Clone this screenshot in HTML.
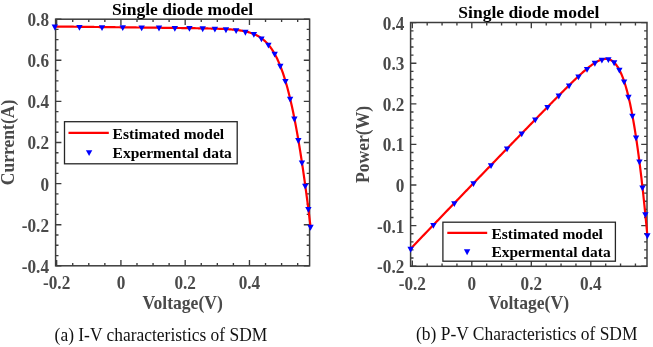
<!DOCTYPE html>
<html><head><meta charset="utf-8"><style>
html,body{margin:0;padding:0;background:#fff;}
body{width:653px;height:347px;overflow:hidden;}
svg{display:block;will-change:transform;filter:blur(0.35px);}
text{font-family:"Liberation Serif", serif;}
</style></head><body>
<svg width="653" height="347" viewBox="0 0 653 347">
<rect width="653" height="347" fill="#fff"/>
<rect x="55.60" y="19.20" width="254.00" height="246.60" fill="none" stroke="#3c3c3c" stroke-width="1.5"/><path d="M56.65,265.80V260.00M56.65,19.20V25.00M72.72,265.80V262.90M72.72,19.20V22.10M88.78,265.80V262.90M88.78,19.20V22.10M104.85,265.80V262.90M104.85,19.20V22.10M120.92,265.80V260.00M120.92,19.20V25.00M136.99,265.80V262.90M136.99,19.20V22.10M153.06,265.80V262.90M153.06,19.20V22.10M169.12,265.80V262.90M169.12,19.20V22.10M185.19,265.80V260.00M185.19,19.20V25.00M201.26,265.80V262.90M201.26,19.20V22.10M217.33,265.80V262.90M217.33,19.20V22.10M233.40,265.80V262.90M233.40,19.20V22.10M249.46,265.80V260.00M249.46,19.20V25.00M265.53,265.80V262.90M265.53,19.20V22.10M281.60,265.80V262.90M281.60,19.20V22.10M297.67,265.80V262.90M297.67,19.20V22.10M55.60,265.84H61.40M309.60,265.84H303.80M55.60,255.56H58.50M309.60,255.56H306.70M55.60,245.28H58.50M309.60,245.28H306.70M55.60,235.00H58.50M309.60,235.00H306.70M55.60,224.72H61.40M309.60,224.72H303.80M55.60,214.44H58.50M309.60,214.44H306.70M55.60,204.16H58.50M309.60,204.16H306.70M55.60,193.88H58.50M309.60,193.88H306.70M55.60,183.60H61.40M309.60,183.60H303.80M55.60,173.32H58.50M309.60,173.32H306.70M55.60,163.04H58.50M309.60,163.04H306.70M55.60,152.76H58.50M309.60,152.76H306.70M55.60,142.48H61.40M309.60,142.48H303.80M55.60,132.20H58.50M309.60,132.20H306.70M55.60,121.92H58.50M309.60,121.92H306.70M55.60,111.64H58.50M309.60,111.64H306.70M55.60,101.36H61.40M309.60,101.36H303.80M55.60,91.08H58.50M309.60,91.08H306.70M55.60,80.80H58.50M309.60,80.80H306.70M55.60,70.52H58.50M309.60,70.52H306.70M55.60,60.24H61.40M309.60,60.24H303.80M55.60,49.96H58.50M309.60,49.96H306.70M55.60,39.68H58.50M309.60,39.68H306.70M55.60,29.40H58.50M309.60,29.40H306.70M55.60,19.12H61.40M309.60,19.12H303.80" stroke="#3c3c3c" stroke-width="1.35" fill="none"/><path d="M54.82,26.50L55.46,26.51L56.10,26.52L56.74,26.53L57.38,26.53L58.02,26.54L58.66,26.55L59.30,26.56L59.94,26.56L60.58,26.57L61.22,26.58L61.87,26.59L62.51,26.59L63.15,26.60L63.79,26.61L64.43,26.62L65.07,26.62L65.71,26.63L66.35,26.64L66.99,26.65L67.63,26.66L68.27,26.66L68.92,26.67L69.56,26.68L70.20,26.69L70.84,26.69L71.48,26.70L72.12,26.71L72.76,26.72L73.40,26.72L74.04,26.73L74.68,26.74L75.32,26.75L75.96,26.75L76.61,26.76L77.25,26.77L77.89,26.78L78.53,26.78L79.17,26.79L79.81,26.80L80.45,26.81L81.09,26.82L81.73,26.82L82.37,26.83L83.01,26.84L83.66,26.85L84.30,26.85L84.94,26.86L85.58,26.87L86.22,26.88L86.86,26.88L87.50,26.89L88.14,26.90L88.78,26.91L89.42,26.91L90.06,26.92L90.70,26.93L91.35,26.94L91.99,26.95L92.63,26.95L93.27,26.96L93.91,26.97L94.55,26.98L95.19,26.98L95.83,26.99L96.47,27.00L97.11,27.01L97.75,27.01L98.40,27.02L99.04,27.03L99.68,27.04L100.32,27.04L100.96,27.05L101.60,27.06L102.24,27.07L102.88,27.07L103.52,27.08L104.16,27.09L104.80,27.10L105.44,27.11L106.09,27.11L106.73,27.12L107.37,27.13L108.01,27.14L108.65,27.14L109.29,27.15L109.93,27.16L110.57,27.17L111.21,27.17L111.85,27.18L112.49,27.19L113.14,27.20L113.78,27.20L114.42,27.21L115.06,27.22L115.70,27.23L116.34,27.23L116.98,27.24L117.62,27.25L118.26,27.26L118.90,27.27L119.54,27.27L120.18,27.28L120.83,27.29L121.47,27.30L122.11,27.30L122.75,27.31L123.39,27.32L124.03,27.33L124.67,27.33L125.31,27.34L125.95,27.35L126.59,27.36L127.23,27.36L127.88,27.37L128.52,27.38L129.16,27.39L129.80,27.40L130.44,27.40L131.08,27.41L131.72,27.42L132.36,27.43L133.00,27.43L133.64,27.44L134.28,27.45L134.92,27.46L135.57,27.46L136.21,27.47L136.85,27.48L137.49,27.49L138.13,27.49L138.77,27.50L139.41,27.51L140.05,27.52L140.69,27.53L141.33,27.53L141.97,27.54L142.62,27.55L143.26,27.56L143.90,27.56L144.54,27.57L145.18,27.58L145.82,27.59L146.46,27.59L147.10,27.60L147.74,27.61L148.38,27.62L149.02,27.63L149.66,27.63L150.31,27.64L150.95,27.65L151.59,27.66L152.23,27.66L152.87,27.67L153.51,27.68L154.15,27.69L154.79,27.69L155.43,27.70L156.07,27.71L156.71,27.72L157.36,27.73L158.00,27.73L158.64,27.74L159.28,27.75L159.92,27.76L160.56,27.76L161.20,27.77L161.84,27.78L162.48,27.79L163.12,27.80L163.76,27.80L164.40,27.81L165.05,27.82L165.69,27.83L166.33,27.83L166.97,27.84L167.61,27.85L168.25,27.86L168.89,27.87L169.53,27.87L170.17,27.88L170.81,27.89L171.45,27.90L172.10,27.91L172.74,27.91L173.38,27.92L174.02,27.93L174.66,27.94L175.30,27.95L175.94,27.95L176.58,27.96L177.22,27.97L177.86,27.98L178.50,27.99L179.14,28.00L179.79,28.00L180.43,28.01L181.07,28.02L181.71,28.03L182.35,28.04L182.99,28.05L183.63,28.06L184.27,28.06L184.91,28.07L185.55,28.08L186.19,28.09L186.83,28.10L187.48,28.11L188.12,28.12L188.76,28.13L189.40,28.14L190.04,28.15L190.68,28.15L191.32,28.16L191.96,28.17L192.60,28.18L193.24,28.19L193.88,28.20L194.53,28.21L195.17,28.22L195.81,28.23L196.45,28.24L197.09,28.25L197.73,28.26L198.37,28.28L199.01,28.29L199.65,28.30L200.29,28.31L200.93,28.32L201.57,28.33L202.22,28.34L202.86,28.36L203.50,28.37L204.14,28.38L204.78,28.39L205.42,28.41L206.06,28.42L206.70,28.43L207.34,28.45L207.98,28.46L208.62,28.48L209.27,28.49L209.91,28.51L210.55,28.52L211.19,28.54L211.83,28.56L212.47,28.58L213.11,28.59L213.75,28.61L214.39,28.63L215.03,28.65L215.67,28.67L216.31,28.69L216.96,28.71L217.60,28.74L218.24,28.76L218.88,28.78L219.52,28.81L220.16,28.83L220.80,28.86L221.44,28.89L222.08,28.91L222.72,28.94L223.36,28.98L224.01,29.01L224.65,29.04L225.29,29.08L225.93,29.11L226.57,29.15L227.21,29.19L227.85,29.23L228.49,29.27L229.13,29.31L229.77,29.36L230.41,29.41L231.05,29.46L231.70,29.51L232.34,29.57L232.98,29.62L233.62,29.68L234.26,29.75L234.90,29.81L235.54,29.88L236.18,29.95L236.82,30.03L237.46,30.10L238.10,30.19L238.75,30.27L239.39,30.36L240.03,30.45L240.67,30.55L241.31,30.66L241.95,30.76L242.59,30.88L243.23,30.99L243.87,31.12L244.51,31.25L245.15,31.39L245.79,31.53L246.44,31.68L247.08,31.83L247.72,32.00L248.36,32.17L249.00,32.35L249.64,32.54L250.28,32.74L250.92,32.95L251.56,33.17L252.20,33.40L252.84,33.64L253.49,33.89L254.13,34.16L254.77,34.43L255.41,34.72L256.05,35.03L256.69,35.35L257.33,35.68L257.97,36.03L258.61,36.40L259.25,36.78L259.89,37.19L260.53,37.61L261.18,38.05L261.82,38.52L262.46,39.00L263.10,39.51L263.74,40.04L264.38,40.60L265.02,41.18L265.66,41.79L266.30,42.43L266.94,43.10L267.58,43.80L268.23,44.53L268.87,45.29L269.51,46.08L270.15,46.92L270.79,47.78L271.43,48.69L272.07,49.64L272.71,50.62L273.35,51.65L273.99,52.73L274.63,53.85L275.27,55.01L275.92,56.23L276.56,57.49L277.20,58.80L277.84,60.17L278.48,61.59L279.12,63.07L279.76,64.61L280.40,66.20L281.04,67.86L281.68,69.57L282.32,71.35L282.97,73.20L283.61,75.11L284.25,77.09L284.89,79.14L285.53,81.26L286.17,83.45L286.81,85.71L287.45,88.05L288.09,90.46L288.73,92.95L289.37,95.52L290.01,98.16L290.66,100.89L291.30,103.69L291.94,106.58L292.58,109.54L293.22,112.59L293.86,115.73L294.50,118.94L295.14,122.24L295.78,125.63L296.42,129.10L297.06,132.65L297.71,136.29L298.35,140.01L298.99,143.82L299.63,147.72L300.27,151.69L300.91,155.76L301.55,159.91L302.19,164.14L302.83,168.46L303.47,172.86L304.11,177.34L304.75,181.90L305.40,186.55L306.04,191.28L306.68,196.09L307.32,200.98L307.96,205.95L308.60,211.00L309.24,216.13L309.88,221.33L310.52,226.61" fill="none" stroke="#ff0000" stroke-width="2.2" stroke-linejoin="round" stroke-linecap="round"/><path d="M51.62,24.59L58.02,24.59L54.82,30.39ZM76.23,25.00L82.63,25.00L79.43,30.80ZM98.82,25.31L105.22,25.31L102.02,31.11ZM119.55,25.31L125.95,25.31L122.75,31.11ZM138.48,25.41L144.88,25.41L141.68,31.21ZM155.80,25.62L162.20,25.62L159.00,31.42ZM171.64,26.03L178.04,26.03L174.84,31.83ZM186.23,26.03L192.63,26.03L189.43,31.83ZM199.51,26.34L205.91,26.34L202.71,32.14ZM211.69,26.64L218.09,26.64L214.89,32.44ZM222.77,27.36L229.17,27.36L225.97,33.16ZM232.93,28.19L239.33,28.19L236.13,33.99ZM242.18,29.83L248.58,29.83L245.38,35.63ZM250.67,31.99L257.07,31.99L253.87,37.79ZM258.25,36.41L264.65,36.41L261.45,42.21ZM265.22,42.78L271.62,42.78L268.42,48.58ZM271.46,51.73L277.86,51.73L274.66,57.53ZM277.11,63.86L283.51,63.86L280.31,69.66ZM282.22,79.07L288.62,79.07L285.42,84.87ZM286.92,96.75L293.32,96.75L290.12,102.55ZM291.19,116.59L297.59,116.59L294.39,122.39ZM295.14,138.08L301.54,138.08L298.34,143.88ZM298.74,160.39L305.14,160.39L301.94,166.19ZM302.05,183.72L308.45,183.72L305.25,189.52ZM305.17,206.96L311.57,206.96L308.37,212.76ZM307.32,224.84L313.72,224.84L310.52,230.64Z" fill="#0000ff"/><rect x="64.50" y="121.70" width="172.70" height="42.10" fill="#fff" stroke="#262626" stroke-width="1.3"/><path d="M68.50,132.80H108.80" stroke="#ff0000" stroke-width="2.2"/><path d="M85.90,150.27L92.30,150.27L89.10,156.07Z" fill="#0000ff"/><g font-family="Liberation Serif" font-weight="bold" font-size="15.5" fill="#000"><text transform="translate(112.60,138.50)">Estimated model</text><text transform="translate(112.60,158.30)">Expermental data</text></g><g font-family="Liberation Serif" font-weight="bold" font-size="17.2" fill="#4a4a4a"><text transform="translate(56.65,289.20) scale(1,1.06)" text-anchor="middle">-0.2</text><text transform="translate(120.92,289.20) scale(1,1.06)" text-anchor="middle">0</text><text transform="translate(185.19,289.20) scale(1,1.06)" text-anchor="middle">0.2</text><text transform="translate(249.46,289.20) scale(1,1.06)" text-anchor="middle">0.4</text><text transform="translate(49.00,272.84) scale(1,1.06)" text-anchor="end">-0.4</text><text transform="translate(49.00,231.72) scale(1,1.06)" text-anchor="end">-0.2</text><text transform="translate(49.00,190.60) scale(1,1.06)" text-anchor="end">0</text><text transform="translate(49.00,149.48) scale(1,1.06)" text-anchor="end">0.2</text><text transform="translate(49.00,108.36) scale(1,1.06)" text-anchor="end">0.4</text><text transform="translate(49.00,67.24) scale(1,1.06)" text-anchor="end">0.6</text><text transform="translate(49.00,26.12) scale(1,1.06)" text-anchor="end">0.8</text><text transform="translate(182.60,308.80) scale(1,1.02)" text-anchor="middle" font-size="17.6">Voltage(V)</text><text transform="translate(14.40,142.50) rotate(-90) scale(1,1.02)" text-anchor="middle" font-size="17.6">Current(A)</text></g><text transform="translate(182.60,14.60)" text-anchor="middle" font-family="Liberation Serif" font-weight="bold" font-size="17.5" fill="#000">Single diode model</text><text transform="translate(54.60,340.60) scale(1,1.02)" font-family="Liberation Serif" font-size="17.45" fill="#111">(a) I-V characteristics of SDM</text><rect x="410.60" y="22.50" width="236.40" height="243.80" fill="none" stroke="#3c3c3c" stroke-width="1.5"/><path d="M412.31,266.30V260.50M412.31,22.50V28.30M427.18,266.30V263.40M427.18,22.50V25.40M442.06,266.30V263.40M442.06,22.50V25.40M456.93,266.30V263.40M456.93,22.50V25.40M471.81,266.30V260.50M471.81,22.50V28.30M486.69,266.30V263.40M486.69,22.50V25.40M501.56,266.30V263.40M501.56,22.50V25.40M516.44,266.30V263.40M516.44,22.50V25.40M531.31,266.30V260.50M531.31,22.50V28.30M546.19,266.30V263.40M546.19,22.50V25.40M561.06,266.30V263.40M561.06,22.50V25.40M575.94,266.30V263.40M575.94,22.50V25.40M590.81,266.30V260.50M590.81,22.50V28.30M605.69,266.30V263.40M605.69,22.50V25.40M620.56,266.30V263.40M620.56,22.50V25.40M635.44,266.30V263.40M635.44,22.50V25.40M410.60,266.16H416.40M647.00,266.16H641.20M410.60,258.04H413.50M647.00,258.04H644.10M410.60,249.93H413.50M647.00,249.93H644.10M410.60,241.81H413.50M647.00,241.81H644.10M410.60,233.70H413.50M647.00,233.70H644.10M410.60,225.58H416.40M647.00,225.58H641.20M410.60,217.46H413.50M647.00,217.46H644.10M410.60,209.35H413.50M647.00,209.35H644.10M410.60,201.23H413.50M647.00,201.23H644.10M410.60,193.12H413.50M647.00,193.12H644.10M410.60,185.00H416.40M647.00,185.00H641.20M410.60,176.88H413.50M647.00,176.88H644.10M410.60,168.77H413.50M647.00,168.77H644.10M410.60,160.65H413.50M647.00,160.65H644.10M410.60,152.54H413.50M647.00,152.54H644.10M410.60,144.42H416.40M647.00,144.42H641.20M410.60,136.30H413.50M647.00,136.30H644.10M410.60,128.19H413.50M647.00,128.19H644.10M410.60,120.07H413.50M647.00,120.07H644.10M410.60,111.96H413.50M647.00,111.96H644.10M410.60,103.84H416.40M647.00,103.84H641.20M410.60,95.72H413.50M647.00,95.72H644.10M410.60,87.61H413.50M647.00,87.61H644.10M410.60,79.49H413.50M647.00,79.49H644.10M410.60,71.38H413.50M647.00,71.38H644.10M410.60,63.26H416.40M647.00,63.26H641.20M410.60,55.14H413.50M647.00,55.14H644.10M410.60,47.03H413.50M647.00,47.03H644.10M410.60,38.91H413.50M647.00,38.91H644.10M410.60,30.80H413.50M647.00,30.80H644.10M410.60,22.68H416.40M647.00,22.68H641.20" stroke="#3c3c3c" stroke-width="1.35" fill="none"/><path d="M410.61,248.78L411.21,248.16L411.80,247.54L412.39,246.92L412.99,246.30L413.58,245.67L414.17,245.05L414.77,244.43L415.36,243.81L415.95,243.19L416.55,242.57L417.14,241.95L417.73,241.33L418.33,240.71L418.92,240.09L419.51,239.47L420.11,238.85L420.70,238.23L421.29,237.60L421.88,236.98L422.48,236.36L423.07,235.74L423.66,235.12L424.26,234.50L424.85,233.88L425.44,233.26L426.04,232.64L426.63,232.02L427.22,231.40L427.82,230.78L428.41,230.16L429.00,229.55L429.60,228.93L430.19,228.31L430.78,227.69L431.38,227.07L431.97,226.45L432.56,225.83L433.16,225.21L433.75,224.59L434.34,223.97L434.94,223.35L435.53,222.73L436.12,222.11L436.72,221.50L437.31,220.88L437.90,220.26L438.50,219.64L439.09,219.02L439.68,218.40L440.28,217.78L440.87,217.17L441.46,216.55L442.06,215.93L442.65,215.31L443.24,214.69L443.84,214.07L444.43,213.46L445.02,212.84L445.62,212.22L446.21,211.60L446.80,210.98L447.40,210.37L447.99,209.75L448.58,209.13L449.18,208.51L449.77,207.90L450.36,207.28L450.96,206.66L451.55,206.04L452.14,205.43L452.74,204.81L453.33,204.19L453.92,203.58L454.52,202.96L455.11,202.34L455.70,201.72L456.30,201.11L456.89,200.49L457.48,199.87L458.08,199.26L458.67,198.64L459.26,198.02L459.86,197.41L460.45,196.79L461.04,196.18L461.64,195.56L462.23,194.94L462.82,194.33L463.42,193.71L464.01,193.09L464.60,192.48L465.20,191.86L465.79,191.25L466.38,190.63L466.98,190.01L467.57,189.40L468.16,188.78L468.76,188.17L469.35,187.55L469.94,186.94L470.54,186.32L471.13,185.71L471.72,185.09L472.32,184.48L472.91,183.86L473.50,183.25L474.10,182.63L474.69,182.02L475.28,181.40L475.88,180.79L476.47,180.17L477.06,179.56L477.66,178.94L478.25,178.33L478.84,177.71L479.44,177.10L480.03,176.48L480.62,175.87L481.22,175.25L481.81,174.64L482.40,174.03L483.00,173.41L483.59,172.80L484.18,172.18L484.78,171.57L485.37,170.96L485.96,170.34L486.56,169.73L487.15,169.11L487.74,168.50L488.34,167.89L488.93,167.27L489.52,166.66L490.12,166.05L490.71,165.43L491.30,164.82L491.89,164.21L492.49,163.59L493.08,162.98L493.67,162.37L494.27,161.75L494.86,161.14L495.45,160.53L496.05,159.92L496.64,159.30L497.23,158.69L497.83,158.08L498.42,157.46L499.01,156.85L499.61,156.24L500.20,155.63L500.79,155.02L501.39,154.40L501.98,153.79L502.57,153.18L503.17,152.57L503.76,151.95L504.35,151.34L504.95,150.73L505.54,150.12L506.13,149.51L506.73,148.90L507.32,148.28L507.91,147.67L508.51,147.06L509.10,146.45L509.69,145.84L510.29,145.23L510.88,144.62L511.47,144.00L512.07,143.39L512.66,142.78L513.25,142.17L513.85,141.56L514.44,140.95L515.03,140.34L515.63,139.73L516.22,139.12L516.81,138.51L517.41,137.90L518.00,137.29L518.59,136.67L519.19,136.06L519.78,135.45L520.37,134.84L520.97,134.23L521.56,133.62L522.15,133.01L522.75,132.40L523.34,131.79L523.93,131.18L524.53,130.57L525.12,129.96L525.71,129.36L526.31,128.75L526.90,128.14L527.49,127.53L528.09,126.92L528.68,126.31L529.27,125.70L529.87,125.09L530.46,124.48L531.05,123.87L531.65,123.26L532.24,122.66L532.83,122.05L533.43,121.44L534.02,120.83L534.61,120.22L535.21,119.61L535.80,119.01L536.39,118.40L536.99,117.79L537.58,117.18L538.17,116.58L538.77,115.97L539.36,115.36L539.95,114.75L540.55,114.15L541.14,113.54L541.73,112.93L542.33,112.33L542.92,111.72L543.51,111.11L544.11,110.51L544.70,109.90L545.29,109.30L545.89,108.69L546.48,108.09L547.07,107.48L547.67,106.87L548.26,106.27L548.85,105.67L549.45,105.06L550.04,104.46L550.63,103.85L551.23,103.25L551.82,102.65L552.41,102.04L553.01,101.44L553.60,100.84L554.19,100.24L554.79,99.64L555.38,99.03L555.97,98.43L556.57,97.83L557.16,97.23L557.75,96.63L558.35,96.03L558.94,95.44L559.53,94.84L560.13,94.24L560.72,93.64L561.31,93.05L561.90,92.45L562.50,91.85L563.09,91.26L563.68,90.67L564.28,90.07L564.87,89.48L565.46,88.89L566.06,88.30L566.65,87.71L567.24,87.12L567.84,86.54L568.43,85.95L569.02,85.36L569.62,84.78L570.21,84.20L570.80,83.62L571.40,83.04L571.99,82.46L572.58,81.88L573.18,81.31L573.77,80.73L574.36,80.16L574.96,79.59L575.55,79.03L576.14,78.46L576.74,77.90L577.33,77.34L577.92,76.78L578.52,76.23L579.11,75.68L579.70,75.13L580.30,74.58L580.89,74.04L581.48,73.50L582.08,72.97L582.67,72.44L583.26,71.91L583.86,71.39L584.45,70.87L585.04,70.36L585.64,69.85L586.23,69.35L586.82,68.86L587.42,68.37L588.01,67.88L588.60,67.41L589.20,66.94L589.79,66.48L590.38,66.02L590.98,65.58L591.57,65.14L592.16,64.71L592.76,64.30L593.35,63.89L593.94,63.49L594.54,63.11L595.13,62.73L595.72,62.37L596.32,62.03L596.91,61.69L597.50,61.38L598.10,61.07L598.69,60.79L599.28,60.52L599.88,60.26L600.47,60.03L601.06,59.82L601.66,59.62L602.25,59.45L602.84,59.30L603.44,59.18L604.03,59.08L604.62,59.00L605.22,58.96L605.81,58.94L606.40,58.95L607.00,58.99L607.59,59.07L608.18,59.18L608.78,59.32L609.37,59.50L609.96,59.73L610.56,59.99L611.15,60.29L611.74,60.64L612.34,61.03L612.93,61.47L613.52,61.96L614.12,62.50L614.71,63.10L615.30,63.74L615.90,64.45L616.49,65.22L617.08,66.04L617.68,66.93L618.27,67.89L618.86,68.91L619.46,70.01L620.05,71.17L620.64,72.41L621.24,73.73L621.83,75.12L622.42,76.60L623.02,78.16L623.61,79.80L624.20,81.53L624.80,83.35L625.39,85.26L625.98,87.27L626.58,89.37L627.17,91.57L627.76,93.87L628.36,96.27L628.95,98.77L629.54,101.38L630.14,104.10L630.73,106.92L631.32,109.86L631.91,112.91L632.51,116.07L633.10,119.35L633.69,122.74L634.29,126.25L634.88,129.88L635.47,133.63L636.07,137.50L636.66,141.50L637.25,145.61L637.85,149.85L638.44,154.22L639.03,158.71L639.63,163.33L640.22,168.08L640.81,172.95L641.41,177.95L642.00,183.09L642.59,188.35L643.19,193.73L643.78,199.25L644.37,204.90L644.97,210.68L645.56,216.59L646.15,222.62L646.75,228.79L647.34,235.09" fill="none" stroke="#ff0000" stroke-width="2.2" stroke-linejoin="round" stroke-linecap="round"/><path d="M407.41,246.84L413.81,246.84L410.61,252.64ZM430.20,222.99L436.60,222.99L433.40,228.79ZM451.12,201.21L457.52,201.21L454.32,207.01ZM470.31,181.31L476.71,181.31L473.51,187.11ZM487.83,163.14L494.23,163.14L491.03,168.94ZM503.86,146.57L510.26,146.57L507.06,152.37ZM518.53,131.52L524.93,131.52L521.73,137.32ZM532.04,117.57L538.44,117.57L535.24,123.37ZM544.33,105.04L550.73,105.04L547.53,110.84ZM555.60,93.60L562.00,93.60L558.80,99.40ZM565.87,83.51L572.27,83.51L569.07,89.31ZM575.27,74.47L581.67,74.47L578.47,80.27ZM583.84,67.00L590.24,67.00L587.04,72.80ZM591.69,60.85L598.09,60.85L594.89,66.65ZM598.71,57.69L605.11,57.69L601.91,63.49ZM605.17,57.25L611.57,57.25L608.37,63.05ZM610.94,60.37L617.34,60.37L614.14,66.17ZM616.17,67.74L622.57,67.74L619.37,73.54ZM620.91,79.41L627.31,79.41L624.11,85.21ZM625.25,94.83L631.65,94.83L628.45,100.63ZM629.21,113.74L635.61,113.74L632.41,119.54ZM632.87,135.57L639.27,135.57L636.07,141.37ZM636.20,159.41L642.60,159.41L639.40,165.21ZM639.26,185.39L645.66,185.39L642.46,191.19ZM642.15,212.18L648.55,212.18L645.35,217.98ZM644.14,233.35L650.54,233.35L647.34,239.15Z" fill="#0000ff"/><rect x="442.90" y="222.20" width="172.50" height="39.00" fill="#fff" stroke="#262626" stroke-width="1.3"/><path d="M447.30,232.90H487.20" stroke="#ff0000" stroke-width="2.2"/><path d="M463.90,249.37L470.30,249.37L467.10,255.17Z" fill="#0000ff"/><g font-family="Liberation Serif" font-weight="bold" font-size="15.5" fill="#000"><text transform="translate(491.40,238.70)">Estimated model</text><text transform="translate(491.40,256.60)">Expermental data</text></g><g font-family="Liberation Serif" font-weight="bold" font-size="17.2" fill="#4a4a4a"><text transform="translate(412.31,290.10) scale(1,1.06)" text-anchor="middle">-0.2</text><text transform="translate(471.81,290.10) scale(1,1.06)" text-anchor="middle">0</text><text transform="translate(531.31,290.10) scale(1,1.06)" text-anchor="middle">0.2</text><text transform="translate(590.81,290.10) scale(1,1.06)" text-anchor="middle">0.4</text><text transform="translate(404.30,273.16) scale(1,1.06)" text-anchor="end">-0.2</text><text transform="translate(404.30,232.58) scale(1,1.06)" text-anchor="end">-0.1</text><text transform="translate(404.30,192.00) scale(1,1.06)" text-anchor="end">0</text><text transform="translate(404.30,151.42) scale(1,1.06)" text-anchor="end">0.1</text><text transform="translate(404.30,110.84) scale(1,1.06)" text-anchor="end">0.2</text><text transform="translate(404.30,70.26) scale(1,1.06)" text-anchor="end">0.3</text><text transform="translate(404.30,29.68) scale(1,1.06)" text-anchor="end">0.4</text><text transform="translate(528.80,309.20) scale(1,1.02)" text-anchor="middle" font-size="17.6">Voltage(V)</text><text transform="translate(369.40,144.40) rotate(-90) scale(1,1.02)" text-anchor="middle" font-size="17.6">Power(W)</text></g><text transform="translate(528.80,17.80)" text-anchor="middle" font-family="Liberation Serif" font-weight="bold" font-size="17.5" fill="#000">Single diode model</text><text transform="translate(416.00,340.20) scale(1,1.02)" font-family="Liberation Serif" font-size="17.45" fill="#111">(b) P-V Characteristics of SDM</text>
</svg></body></html>
